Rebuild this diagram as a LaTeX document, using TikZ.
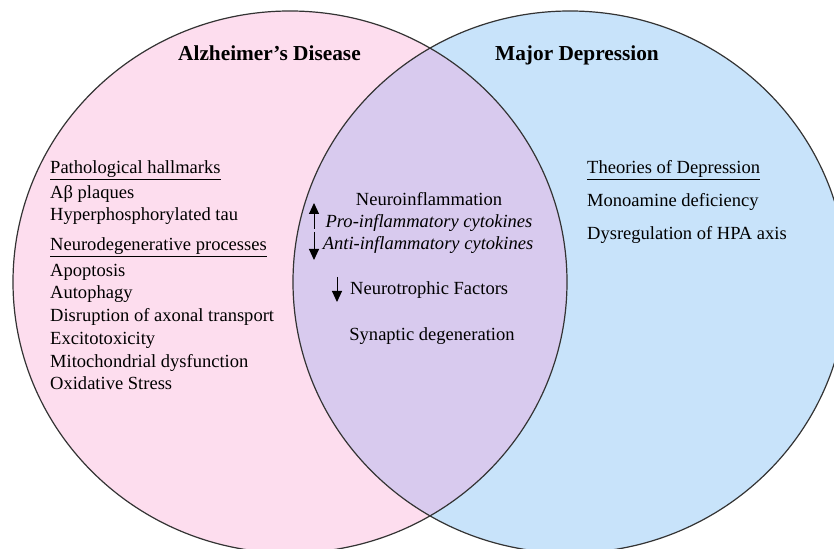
\documentclass[tikz,border=0pt]{standalone}
\usepackage{fontspec}
\setmainfont{Liberation Serif}
\usetikzlibrary{arrows.meta}
\definecolor{adpink}{HTML}{FDDDEE}
\definecolor{mdblue}{HTML}{C8E3FA}
\definecolor{overlapc}{HTML}{D8CAEE}
\definecolor{edgec}{HTML}{333333}
\begin{document}
\begin{tikzpicture}[x=1bp,y=-1bp,
  body/.style={anchor=base west,inner sep=0pt,font=\fontsize{18.6}{20}\selectfont},
  mid/.style={anchor=base,inner sep=0pt,font=\fontsize{18.6}{20}\selectfont},
  heading/.style={anchor=base west,inner sep=0pt,font=\fontsize{21.4}{24}\selectfont\bfseries},
  updown/.style={-{Triangle[length=11bp,width=10bp]},line width=1bp,black},
  ring/.style={draw=edgec,line width=1.2bp}]
\useasboundingbox (0,0) rectangle (834,549);
% circles
\fill[adpink] (290,282) ellipse [x radius=277bp, y radius=271bp];
\fill[mdblue] (570,282) ellipse [x radius=277bp, y radius=271bp];
\begin{scope}
  \clip (290,282) ellipse [x radius=277bp, y radius=271bp];
  \fill[overlapc] (570,282) ellipse [x radius=277bp, y radius=271bp];
\end{scope}
\draw[ring] (290,282) ellipse [x radius=277bp, y radius=271bp];
\draw[ring] (570,282) ellipse [x radius=277bp, y radius=271bp];
% titles
\node[heading] (adtitle) at (178,61) {Alzheimer’s Disease};
\node[heading] (mdtitle) at (495,61) {Major Depression};
% left column
\node[body] (path) at (50,174) {\underline{Pathological hallmarks}};
\node[body] (abeta) at (50,199) {Aβ plaques};
\node[body] (tau) at (50,221) {Hyperphosphorylated tau};
\node[body] (neuro) at (50,251) {\underline{Neurodegenerative processes}};
\node[body] (apop) at (50,277) {Apoptosis};
\node[body] (auto) at (50,299) {Autophagy};
\node[body] (disr) at (50,322) {Disruption of axonal transport};
\node[body] (exci) at (50,344) {Excitotoxicity};
\node[body] (mito) at (50,367) {Mitochondrial dysfunction};
\node[body] (oxid) at (50,389) {Oxidative Stress};
% middle
\node[mid] (ninf) at (429,206) {Neuroinflammation};
\node[mid] (pro) at (429,228) {\itshape Pro-inflammatory cytokines};
\node[mid] (anti) at (428,250) {\itshape Anti-inflammatory cytokines};
\node[body] (ntf) at (350,295) {Neurotrophic Factors};
\node[mid] (syn) at (432,340) {Synaptic degeneration};
\coordinate (upA) at (314,229);
\coordinate (upB) at (314,203);
\coordinate (dnA) at (314,232);
\coordinate (dnB) at (314,260);
\coordinate (ntA) at (337,277);
\coordinate (ntB) at (337,302);
\draw[updown] (upA) -- (upB);
\draw[updown] (dnA) -- (dnB);
\draw[updown] (ntA) -- (ntB);
% right column
\node[body] (theo) at (587,174) {\underline{Theories of Depression}};
\node[body] (mono) at (587,207) {Monoamine deficiency};
\node[body] (hpa) at (587,240) {Dysregulation of HPA axis};
\end{tikzpicture}
\end{document}
